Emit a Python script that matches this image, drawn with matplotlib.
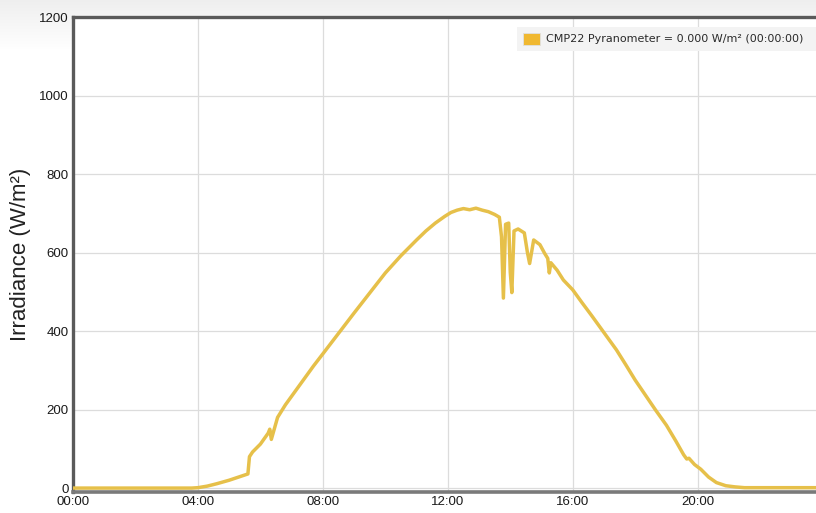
import numpy as np
import matplotlib
matplotlib.use("Agg")
import matplotlib.pyplot as plt
from matplotlib.patches import Rectangle

# Irradiance readings over one day (hour of day, W/m²)
hours = [0.0, 1.0, 2.0, 3.0, 3.8, 4.0, 4.3, 4.6, 5.0, 5.3, 5.6, 5.65, 5.75,
         6.0, 6.25, 6.3, 6.35, 6.55, 6.8, 7.1, 7.4, 7.7, 8.0, 8.5, 9.0, 9.5,
         10.0, 10.5, 11.0, 11.3, 11.6, 11.9, 12.1, 12.3, 12.5, 12.7, 12.9,
         13.1, 13.3, 13.5, 13.65, 13.72, 13.78, 13.85, 13.95, 14.0, 14.05,
         14.12, 14.25, 14.45, 14.55, 14.62, 14.75, 14.95, 15.1, 15.2, 15.25,
         15.3, 15.5, 15.7, 16.0, 16.3, 16.6, 17.0, 17.4, 17.7, 18.0, 18.3,
         18.65, 19.0, 19.3, 19.55, 19.65, 19.72, 19.9, 20.1, 20.35, 20.6,
         20.9, 21.2, 21.5, 22.0, 23.0, 23.95]
irradiance = [0, 0, 0, 0, 0, 1, 5, 11, 20, 28, 36, 80, 92, 112, 140, 150,
              124, 180, 212, 245, 278, 311, 342, 394, 446, 497, 548, 592, 632,
              655, 675, 692, 702, 708, 712, 709, 713, 708, 704, 697, 690, 640,
              484, 672, 675, 550, 498, 655, 660, 650, 600, 572, 632, 620, 598,
              585, 548, 574, 555, 530, 505, 472, 440, 396, 352, 314, 275, 240,
              199, 160, 120, 85, 74, 76, 60, 48, 28, 14, 6, 3, 1, 1, 1, 1]

tick_hours = [0, 4, 8, 12, 16, 20]
tick_labels = ["00:00", "04:00", "08:00", "12:00", "16:00", "20:00"]
y_ticks = [0, 200, 400, 600, 800, 1000, 1200]

series_label = "CMP22 Pyranometer = 0.000 W/m² (00:00:00)"
line_color = "#E6C04A"
swatch_color = "#F0B830"

fig = plt.figure(figsize=(8.16, 5.13), dpi=100)

# Soft grey wash across the top of the canvas
bg = fig.add_axes([0, 0, 1, 1], zorder=-10)
bg.set_axis_off()
grad = np.ones((513, 1))
ramp = np.linspace(0.935, 1.0, 50)
grad[:50, 0] = ramp
bg.imshow(np.dstack([grad, grad, grad]), aspect="auto", extent=[0, 1, 0, 1],
          transform=bg.transAxes)

ax = fig.add_axes([73 / 816, 1 - 492 / 513, 1 - 73 / 816 + 0.01, (492 - 17) / 513])
ax.set_facecolor("white")
ax.plot(hours, irradiance, color=line_color, lw=2.5, solid_joinstyle="round",
        zorder=3)

ax.set_xlim(0, 24.05)
ax.set_ylim(-10, 1200)
ax.set_xticks(tick_hours)
ax.set_xticklabels(tick_labels)
ax.set_yticks(y_ticks)
ax.grid(True, color="#DCDCDC", lw=0.9)
ax.set_axisbelow(True)
ax.tick_params(length=0, labelsize=9.5, colors="#1A1A1A", pad=3)
for lab in ax.get_xticklabels() + ax.get_yticklabels():
    lab.set_fontfamily("Liberation Sans")

for side in ("left", "top"):
    ax.spines[side].set_color("#5A5A5A")
    ax.spines[side].set_linewidth(2.4)
ax.spines["bottom"].set_color("#7A7A7A")
ax.spines["bottom"].set_linewidth(2.6)
ax.spines["right"].set_visible(False)

ax.set_ylabel("Irradiance (W/m²)", fontsize=16, family="Liberation Sans",
              color="#222222", labelpad=6)

# Legend box in the upper right corner
lx0, ly0 = 517 / 816, 1 - 51 / 513
fig.patches.append(Rectangle((lx0, ly0), 1 - lx0, 24 / 513,
                             transform=fig.transFigure, facecolor="#F3F3F3",
                             edgecolor="none", zorder=5))
fig.patches.append(Rectangle((523 / 816, 1 - 45 / 513), 17 / 816, 12 / 513,
                             transform=fig.transFigure, facecolor=swatch_color,
                             edgecolor="#E0E0E0", lw=0.6, zorder=6))
fig.text(546 / 816, 1 - 39 / 513, series_label, fontsize=8.05,
         family="DejaVu Sans", color="#2A2A2A", va="center", ha="left",
         zorder=7)

fig.savefig("out.png", dpi=100)
